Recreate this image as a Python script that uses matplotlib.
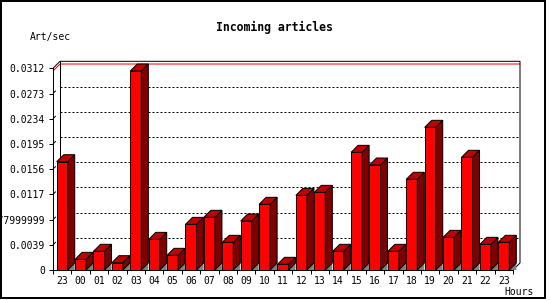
import matplotlib
matplotlib.use("Agg")
import matplotlib.pyplot as plt
from matplotlib.patches import Polygon, Rectangle

# data (articles per second, one bar per hour)
hours = ["23", "00", "01", "02", "03", "04", "05", "06", "07", "08", "09", "10",
         "11", "12", "13", "14", "15", "16", "17", "18", "19", "20", "21", "22", "23"]
rates = [0.01675, 0.00165, 0.00289, 0.00113, 0.03078, 0.00474, 0.00227, 0.00706,
         0.00815, 0.00428, 0.00758, 0.01016, 0.00088, 0.01155, 0.01201, 0.00289,
         0.01820, 0.01624, 0.00289, 0.01403, 0.02207, 0.00505, 0.01743, 0.00397,
         0.00428]
yticks = [0, 0.0039, 0.0078, 0.0117, 0.0156, 0.0195, 0.0234, 0.0273, 0.0312]
ytick_labels = ["0", "0.0039", "0.0077999999", "0.0117", "0.0156", "0.0195",
                "0.0234", "0.0273", "0.0312"]

W, H = 550, 300
MONO = "DejaVu Sans Mono"
FRONT, SIDE, TOP, SHADOW = "#ff0000", "#800000", "#c00000", "#808080"
LW = 0.72  # one pixel

fig = plt.figure(figsize=(W / 100, H / 100), dpi=100)
ax = fig.add_axes([53 / W, 30 / H, 460 / W, 201.7 / H])
n = len(hours)
x0, x1 = -0.5, n - 0.5
ymax = yticks[-1]
ax.set_xlim(x0, x1)
ax.set_ylim(0, ymax)

# depth of the fake 3d: 7 px converted to data units
dx = 7 * (x1 - x0) / 460
dy = 7 * ymax / 201.7

for s in ["top", "right"]:
    ax.spines[s].set_visible(False)
for s in ["left", "bottom"]:
    ax.spines[s].set_linewidth(LW)
    ax.spines[s].set_color("black")

ax.set_yticks(yticks)
ax.set_yticklabels(ytick_labels)
ax.tick_params(axis="y", length=2.9, width=LW, pad=2.9, labelsize=7)
ax.set_xticks(range(n))
ax.set_xticklabels(hours)
ax.set_xticks([i - 0.5 for i in range(n + 1)], minor=True)
ax.tick_params(axis="x", which="major", length=0, pad=4.5, labelsize=7)
ax.tick_params(axis="x", which="minor", length=2.9, width=LW)
for lab in ax.get_xticklabels() + ax.get_yticklabels():
    lab.set_fontfamily(MONO)

def line(xs, ys, **kw):
    kw.setdefault("color", "black")
    kw.setdefault("lw", LW)
    ax.plot(xs, ys, clip_on=False, solid_capstyle="butt", **kw)

# back wall frame
line([x0, x0 + dx, x1 + dx, x1 + dx], [ymax, ymax + dy, ymax + dy, dy])
line([x0 + dx, x0 + dx], [dy, ymax + dy])
line([x1, x1 + dx], [0, dy])

# dotted grid on the back wall
for t in yticks[1:-1]:
    line([x0 + dx, x1 + dx], [t + dy, t + dy], ls=(0, (2, 2)), zorder=1)
    line([x0, x0 + dx * 0.4], [t, t + dy * 0.4], zorder=1)

# red line at the peak value
peak = max(rates)
line([x0, x0 + dx, x1 + dx], [peak, peak + dy, peak + dy], color="red", zorder=1.5)

w = 0.6
for i, v in enumerate(rates):
    l, r = i - w / 2, i + w / 2
    ax.add_patch(Polygon([(r, 0), (r + dx, dy), (r + dx, 0)], closed=True,
                         fc=SHADOW, ec="none", zorder=2, clip_on=False))
    ax.add_patch(Rectangle((l, 0), w, v, fc=FRONT, ec="black", lw=LW, zorder=3))
    ax.add_patch(Polygon([(r, 0), (r + dx, dy), (r + dx, v + dy), (r, v)], closed=True,
                         fc=SIDE, ec="black", lw=LW, zorder=3, clip_on=False))
    ax.add_patch(Polygon([(l, v), (r, v), (r + dx, v + dy), (l + dx, v + dy)], closed=True,
                         fc=TOP, ec="black", lw=LW, zorder=3, clip_on=False))

fig.text(274 / W, 1 - 27 / H, "Incoming articles", ha="center", va="center",
         fontsize=8.3, fontweight="bold", family=MONO)
fig.text(30 / W, 1 - 37 / H, "Art/sec", ha="left", va="center", fontsize=7, family=MONO)
fig.text(534 / W, 1 - 292 / H, "Hours", ha="right", va="center", fontsize=7, family=MONO)

# outer border of the image
fig.patches.append(Rectangle((1 / W, 2 / H), 544 / W, 297 / H, transform=fig.transFigure,
                             fill=False, ec="black", lw=1.44))

fig.savefig("out.png", dpi=100)
